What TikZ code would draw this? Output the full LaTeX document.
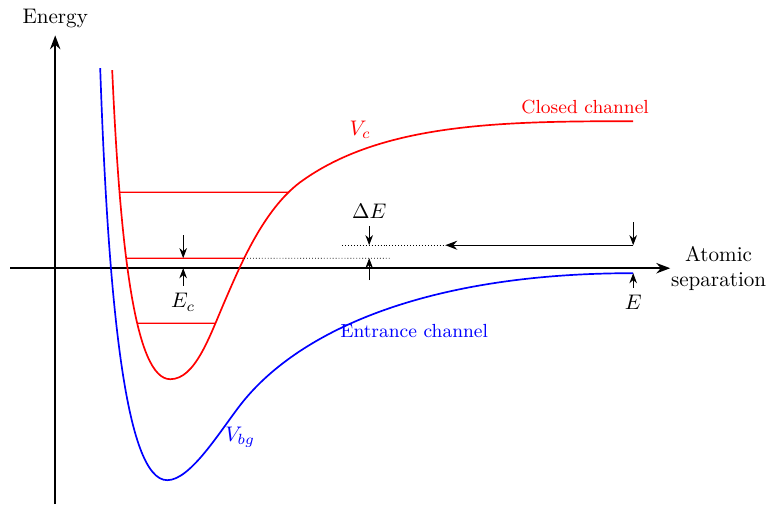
\documentclass[tikz,border=0pt]{standalone}
\usetikzlibrary{arrows.meta, intersections}

\tikzset{
    closedpot/.style={red, thick},
    entrancepot/.style={blue, thick},
    boundlevel/.style={red, semithick},
    gapline/.style={densely dotted},
    marker/.style={-{Stealth}},
}

\begin{document}
\begin{tikzpicture}
    \useasboundingbox (-0.92,-3.93) rectangle (11.88,4.47);

    %% Axes
    \draw[thick, -{Stealth}] (0,-3.93) -- (0,3.88)
        node[above] (energy) {Energy};
    \draw[thick, -{Stealth}] (-0.75,0) -- (10.25,0)
        node[right, inner sep=0pt, align=center] (sep) {Atomic\\separation};
    \coordinate (origin) at (0,0);
    \coordinate (cend) at (9.633,2.45);
    \coordinate (bend) at (9.633,-0.083);

    %% Closed channel potential
    \draw[closedpot, name path=vc] (0.95,3.3)
        .. controls (1.083,0.3) and (1.333,-1.85) .. (1.917,-1.85)
        .. controls (2.333,-1.85) and (2.567,-1.15) .. (2.833,-0.533)
        .. controls (3.1,0.083) and (3.475,0.975) .. (4.083,1.433)
        .. controls (5.433,2.417) and (7.417,2.45) .. (cend);

    %% Entrance channel potential
    \draw[entrancepot] (0.75,3.333)
        .. controls (0.883,-0.533) and (1.167,-3.533) .. (1.867,-3.533)
        .. controls (2.25,-3.533) and (2.727,-2.745) .. (3.083,-2.283)
        .. controls (3.998,-1.098) and (6.083,-0.083) .. (bend);

    %% Bound levels
    \path[name path=lv1] (0.5,1.267) -- (5,1.267);
    \path[name path=lv2] (0.5,0.167) -- (5,0.167);
    \path[name path=lv3] (0.5,-0.917) -- (5,-0.917);
    \path[name intersections={of=lv1 and vc, by={t1,t2}}];
    \path[name intersections={of=lv2 and vc, by={m1,m2}}];
    \path[name intersections={of=lv3 and vc, by={b1,b2}}];
    \draw[boundlevel] (t1) -- (t2);
    \draw[boundlevel] (m1) -- (m2);
    \draw[boundlevel] (b1) -- (b2);

    %% Detuning lines
    \coordinate (u1) at (4.783,0.383);
    \coordinate (u2) at (6.5,0.383);
    \coordinate (u3) at (9.633,0.383);
    \coordinate (m3) at (5.583,0.167);
    \draw[gapline] (m2) -- (m3);
    \draw[gapline] (u1) -- (u2);
    \draw[semithick, -{Stealth}] (u3) -- (u2);

    %% Markers
    \node (dE) at (5.233,0.95) {$\Delta E$};
    \coordinate (dEb) at (5.233,-0.2);
    \draw[marker] (dE) -- (dE |- u1);
    \draw[marker] (dEb) -- (dEb |- m3);

    \node (Ec) at (2.133,-0.567) {$E_c$};
    \coordinate (Ect) at (2.133,0.55);
    \draw[marker] (Ect) -- (Ect |- m3);
    \draw[marker] (Ec) -- (Ec |- origin);

    \node (En) at (9.633,-0.567) {$E$};
    \coordinate (Et) at (9.633,0.767);
    \draw[marker] (Et) -- (u3);
    \draw[marker] (En) -- (bend);

    %% Labels
    \node[red] (Vc) at (5.083,2.3) {$V_c$};
    \node[red, font=\small] (closed) at (8.833,2.683) {Closed channel};
    \node[blue, font=\small] (entrance) at (5.983,-1.05) {Entrance channel};
    \node[blue] (Vbg) at (3.083,-2.817) {$V_{bg}$};
\end{tikzpicture}
\end{document}
